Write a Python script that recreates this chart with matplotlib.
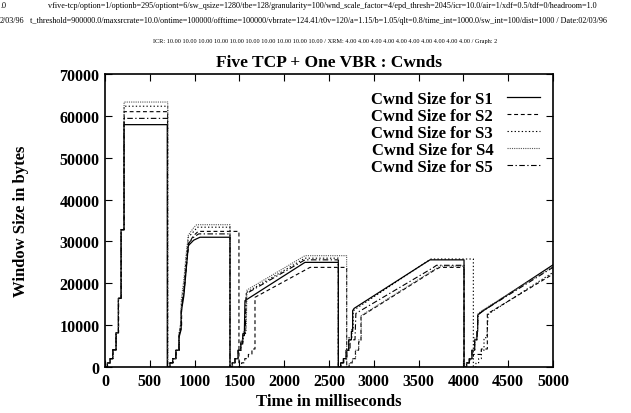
import matplotlib
matplotlib.use("Agg")
import matplotlib.pyplot as plt

plt.rcParams['font.family'] = ['Liberation Serif', 'DejaVu Serif']

# ---------------- data (time ms, window bytes) ----------------
labels = ["Cwnd Size for S1", "Cwnd Size for S2", "Cwnd Size for S3",
          "Cwnd Size for S4", "Cwnd Size for S5"]

s1 = [(0,0),(26,0),(26,1000),(56,1000),(56,2000),(86,2000),(86,4100),(123,4100),(123,8200),(149,8200),(149,16400),(179,16400),(179,32800),(212,32800),(212,57900),(695,57900),(695,0),
      (725,0),(725,1000),(755,1000),(755,2000),(790,2000),(790,4000),(825,4000),(825,7000),(850,9000),(850,13000),(880,17000),(905,23000),(930,29000),(990,30300),(1060,31000),(1395,31000),(1395,0),
      (1420,0),(1420,1000),(1450,1000),(1450,2000),(1485,2000),(1485,4000),(1515,4000),(1515,5500),(1537,5500),(1537,7500),(1555,7500),(1562,15850),(2232,25000),(2604,25000),(2604,0),
      (2630,0),(2630,1000),(2660,1000),(2660,2000),(2690,2000),(2690,4000),(2720,4000),(2720,6500),(2750,6500),(2750,8500),(2764,8500),(2764,13450),(2780,14000),(3560,24700),(3627,25600),(4007,25600),(4007,0),
      (4035,0),(4035,1000),(4065,1000),(4065,2000),(4095,2000),(4095,4000),(4125,4000),(4125,6500),(4150,6500),(4150,8500),(4159,8500),(4159,12400),(4222,13450),(5000,24400)]

s2 = [(0,0),(30,0),(30,1000),(60,1000),(60,2000),(90,2000),(90,4100),(126,4100),(126,8200),(152,8200),(152,16400),(182,16400),(182,32800),(215,32800),(215,61000),(698,61000),(698,0),
      (730,0),(730,1000),(762,1000),(762,2000),(795,2000),(795,4000),(830,4000),(830,7500),(855,10000),(855,14000),(885,18500),(910,24500),(935,29500),(985,31300),(1040,32400),(1495,32400),(1495,0),
      (1525,0),(1525,1000),(1560,1000),(1560,2000),(1600,2000),(1600,3000),(1640,3000),(1640,4300),(1674,4300),(1674,16650),(2288,23800),(2697,23800),(2697,0),
      (2725,0),(2725,1000),(2760,1000),(2760,2000),(2795,2000),(2795,4000),(2830,4000),(2830,6000),(2857,6000),(2857,12100),(3690,23300),(3739,23800),(4007,23800),(4007,0),
      (4040,0),(4040,1000),(4075,1000),(4075,2000),(4110,2000),(4110,3000),(4200,3000),(4200,4300),(4267,4300),(4267,12660),(4290,13000),(5000,22200)]

s3 = [(0,0),(28,0),(28,1000),(58,1000),(58,2000),(88,2000),(88,4100),(124,4100),(124,8200),(150,8200),(150,16400),(180,16400),(180,32800),(213,32800),(213,62300),(700,62300),(700,0),
      (728,0),(728,1000),(758,1000),(758,2000),(792,2000),(792,4000),(828,4000),(828,8000),(852,11000),(852,15000),(882,20000),(907,26000),(930,31000),(1000,32600),(1030,33400),(1395,33400),(1395,0),
      (1422,0),(1422,1000),(1452,1000),(1452,2000),(1488,2000),(1488,4000),(1518,4000),(1518,6000),(1540,6000),(1540,8000),(1570,8000),(1578,17800),(2232,26000),(2604,26000),(2604,0),
      (2632,0),(2632,1000),(2662,1000),(2662,2000),(2692,2000),(2692,4000),(2722,4000),(2722,7000),(2755,7000),(2755,9000),(2770,9000),(2770,13300),(2785,13700),(3565,24800),(3640,25800),(4111,25800),(4111,0),
      (4140,0),(4140,1000),(4170,1000),(4170,2000),(4200,2000),(4200,4000),(4230,4000),(4230,7000),(4262,7000),(4275,12500),(4295,12900),(5000,22600)]

s4 = [(0,0),(27,0),(27,1000),(57,1000),(57,2000),(87,2000),(87,4100),(124,4100),(124,8200),(150,8200),(150,16400),(180,16400),(180,32800),(213,32800),(213,63300),(700,63300),(700,0),
      (727,0),(727,1000),(757,1000),(757,2000),(792,2000),(792,4000),(827,4000),(827,8000),(851,11500),(851,16000),(881,21000),(906,27000),(930,31500),(990,33300),(1023,34000),(1395,34000),(1395,0),
      (1424,0),(1424,1000),(1455,1000),(1455,2000),(1490,2000),(1490,4000),(1520,4000),(1520,6500),(1545,6500),(1545,8500),(1575,8500),(1585,18400),(2232,26600),(2697,26600),(2697,0),
      (2727,0),(2727,1000),(2762,1000),(2762,2000),(2797,2000),(2797,4000),(2832,4000),(2832,6500),(2860,6500),(2860,12300),(3700,23600),(3739,24100),(4007,24100),(4007,0),
      (4037,0),(4037,1000),(4068,1000),(4068,2000),(4098,2000),(4098,4000),(4128,4000),(4128,7000),(4155,7000),(4165,12800),(4230,13800),(5000,24000)]

s5 = [(0,0),(27,0),(27,1000),(57,1000),(57,2000),(87,2000),(87,4100),(123,4100),(123,8200),(150,8200),(150,16400),(180,16400),(180,32800),(212,32800),(212,59400),(698,59400),(698,0),
      (726,0),(726,1000),(756,1000),(756,2000),(791,2000),(791,4000),(826,4000),(826,7500),(851,10000),(851,14000),(881,18000),(906,24000),(930,29500),(990,31000),(1045,31800),(1395,31800),(1395,0),
      (1421,0),(1421,1000),(1451,1000),(1451,2000),(1486,2000),(1486,4000),(1516,4000),(1516,6000),(1539,6000),(1539,8000),(1565,8000),(1575,17500),(2232,25600),(2604,25600),(2604,0),
      (2633,0),(2633,1000),(2665,1000),(2665,2000),(2700,2000),(2700,4000),(2735,4000),(2735,6500),(2790,6500),(2800,12800),(3660,23700),(3700,24300),(4007,24300),(4007,0),
      (4036,0),(4036,1000),(4066,1000),(4066,2000),(4096,2000),(4096,4000),(4126,4000),(4126,6500),(4152,6500),(4165,12600),(4225,13500),(5000,23800)]

series = [s1, s2, s3, s4, s5]

x_ticks = [0, 500, 1000, 1500, 2000, 2500, 3000, 3500, 4000, 4500, 5000]
y_ticks = [0, 10000, 20000, 30000, 40000, 50000, 60000, 70000]

header1_left = ".0"
header1 = "vfive-tcp/option=1/optionb=295/optiont=6/sw_qsize=1280/tbe=128/granularity=100/wnd_scale_factor=4/epd_thresh=2045/icr=10.0/air=1/xdf=0.5/tdf=0/headroom=1.0"
header2_left = "2/03/96"
header2 = "t_threshold=900000.0/maxsrcrate=10.0/ontime=100000/offtime=100000/vbrrate=124.41/t0v=120/a=1.15/b=1.05/qlt=0.8/time_int=1000.0/sw_int=100/dist=1000 / Date:02/03/96"
header3 = "ICR: 10.00 10.00 10.00 10.00 10.00 10.00 10.00 10.00 10.00 10.00 / XRM: 4.00 4.00 4.00 4.00 4.00 4.00 4.00 4.00 4.00 4.00 / Graph: 2"

# ---------------- styles ----------------
styles = [
    dict(color="black", linestyle="-", lw=0.9),
    dict(color="black", linestyle=(0, (3.5, 2.5)), lw=0.8),
    dict(color="black", linestyle=(0, (1.2, 2.0)), lw=0.8),
    dict(color="#555555", linestyle=(0, (1.0, 1.0)), lw=0.8),
    dict(color="black", linestyle=(0, (5, 2.2, 1.2, 2.2)), lw=0.8),
]

fig = plt.figure(figsize=(6.31, 4.14), dpi=100)
ax = fig.add_axes([105/631, 1-368/414, (553-105)/631, (368-75)/414])

for s, st, lab in zip(series, styles, labels):
    ts = [p[0] for p in s]
    ws = [p[1] for p in s]
    ax.plot(ts, ws, label=lab, **st)

ax.set_xlim(0, 5000)
ax.set_ylim(0, 70000)
ax.set_xticks(x_ticks)
ax.set_yticks(y_ticks)
ax.set_xticklabels([str(v) for v in x_ticks])
ax.set_yticklabels([str(v) for v in y_ticks])
ax.tick_params(direction="in", top=True, right=True, length=5, width=0.8,
               labelsize=11.5, pad=4)
for lab in ax.get_xticklabels() + ax.get_yticklabels():
    lab.set_fontweight("bold")
for sp in ax.spines.values():
    sp.set_linewidth(1.2)

ax.set_title("Five TCP + One VBR : Cwnds", fontsize=12.5, fontweight="bold", pad=6)
ax.set_xlabel("Time in milliseconds", fontsize=12, fontweight="bold", labelpad=3)
ax.set_ylabel("Window Size in bytes", fontsize=12, fontweight="bold", labelpad=22)

leg = ax.legend(loc="upper right", bbox_to_anchor=(0.993, 0.975), markerfirst=False,
                frameon=False, prop=dict(weight="bold", size=12),
                handlelength=2.0, handletextpad=0.8, labelspacing=0.05,
                borderaxespad=0.2)

fig.text(0.0, 1-6/414, header1_left, fontsize=5.85, va="center", ha="left")
fig.text(48/631, 1-6/414, header1, fontsize=5.85, va="center", ha="left")
fig.text(0.0, 1-21/414, header2_left, fontsize=5.85, va="center", ha="left")
fig.text(30/631, 1-21/414, header2, fontsize=5.85, va="center", ha="left")
fig.text(325/631, 1-42/414, header3, fontsize=4.5, va="center", ha="center")

fig.savefig("out.png", dpi=100)
